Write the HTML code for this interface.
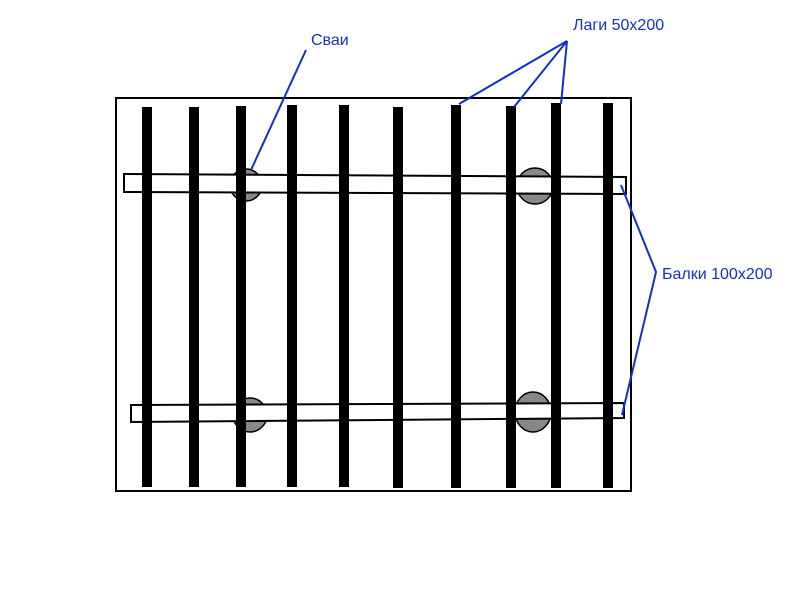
<!DOCTYPE html>
<html><head><meta charset="utf-8"><style>html,body{margin:0;padding:0;background:#fff;width:800px;height:600px;overflow:hidden}</style></head>
<body>
<svg width="800" height="600" xmlns="http://www.w3.org/2000/svg">
<rect x="116" y="98" width="515" height="393" fill="#fff" stroke="#000" stroke-width="2"/>
<g fill="#888" stroke="#000" stroke-width="1.5">
<circle cx="246" cy="185" r="16"/>
<circle cx="535" cy="186" r="18"/>
<circle cx="250" cy="415" r="17"/>
<ellipse cx="533" cy="412" rx="18" ry="20"/>
</g>
<g fill="#fff" stroke="#000" stroke-width="2">
<polygon points="124,174 626,177 626,194 124,192"/>
<polygon points="131,405 624,403 624,418 131,422"/>
</g>
<g fill="#000">
<rect x="142" y="107" width="10" height="380"/>
<rect x="189" y="107" width="10" height="380"/>
<rect x="236" y="106" width="10" height="381"/>
<rect x="287" y="105" width="10" height="382"/>
<rect x="339" y="105" width="10" height="382"/>
<rect x="393" y="107" width="10" height="381"/>
<rect x="451" y="105" width="10" height="383"/>
<rect x="506" y="106" width="10" height="382"/>
<rect x="551" y="103" width="10" height="385"/>
<rect x="603" y="103" width="10" height="385"/>
</g>
<g stroke="#1030d0" stroke-width="2" fill="none">
<line x1="306" y1="50" x2="251" y2="170"/>
<line x1="567" y1="41" x2="459" y2="104"/>
<line x1="567" y1="41" x2="514" y2="107"/>
<line x1="567" y1="41" x2="561" y2="104"/>
<polyline points="621,185 656,272 622,415"/>
</g>
<g fill="#1030d0" font-family="Liberation Sans, sans-serif" font-size="16">
<text x="311" y="45">Сваи</text>
<text x="573" y="30">Лаги 50x200</text>
<text x="662" y="279">Балки 100x200</text>
</g>
</svg>
</body></html>
